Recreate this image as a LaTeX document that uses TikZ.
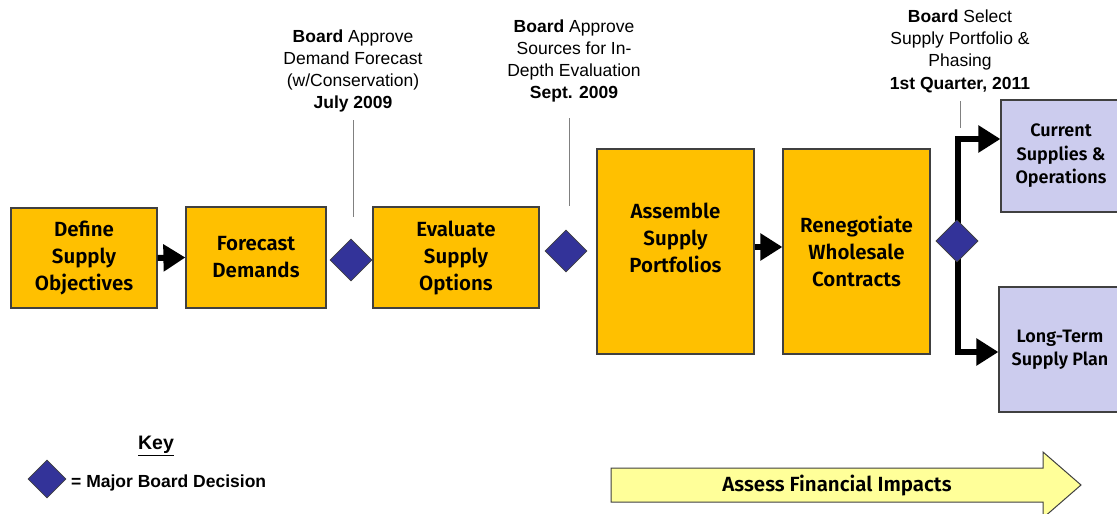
\documentclass[tikz,border=0pt]{standalone}
\usepackage{fontspec}
\setmainfont{Liberation Sans}
\newfontfamily\boxfont{Fira Sans}[BoldFont={Fira Sans SemiBold}]
\usetikzlibrary{shapes.geometric,arrows.meta,positioning}
\definecolor{orng}{HTML}{FFC000}
\definecolor{lav}{HTML}{CCCCEE}
\definecolor{navy}{HTML}{333399}
\definecolor{ylw}{HTML}{FFFF99}
\definecolor{edge}{HTML}{404040}
\tikzset{
  stepbox/.style={draw=edge, line width=1.2pt, fill=orng, align=center, inner sep=0pt,
    font=\boxfont\fontsize{20.5}{27}\selectfont\bfseries},
  outbox/.style={draw=edge, line width=1.2pt, fill=lav, align=center, inner sep=0pt,
    font=\boxfont\fontsize{18}{23.5}\selectfont\bfseries},
  decision/.style={diamond, draw=edge, line width=0.6pt, fill=navy, inner sep=0pt,
    minimum width=42pt, minimum height=42pt, aspect=1},
  flow/.style={line width=6pt, -{Triangle[length=22pt,width=26pt]}},
  flowline/.style={line width=6pt},
  callout/.style={draw=gray, line width=1pt},
  lbl/.style={align=center, font=\fontsize{17.5}{22.3}\selectfont, inner sep=0pt}
}
\begin{document}
\begin{tikzpicture}[x=1pt,y=-1pt]
\useasboundingbox (0,0) rectangle (1117,514);
% boxes
\node[stepbox, minimum width=146pt, minimum height=100pt] (def) at (84,258) {Define\\Supply\\Objectives};
\node[stepbox, minimum width=140pt, minimum height=101pt] (fc) at (256,257.5) {Forecast\\Demands};
\node[decision] (d1) at (351,260) {};
\node[stepbox, minimum width=166pt, minimum height=101pt] (ev) at (456,257.5) {Evaluate\\Supply\\Options};
\node[decision] (d2) at (566,251) {};
\node[stepbox, minimum width=157pt, minimum height=205pt] (as) at (675.5,251.5) {};
\node[stepbox, draw=none, fill=none] (ast) at ([yshift=14pt]as.center) {Assemble\\Supply\\Portfolios};
\node[stepbox, minimum width=147pt, minimum height=205pt] (rn) at (856.5,251.5) {Renegotiate\\Wholesale\\Contracts};
\node[decision] (d3) at (957,241) {};
\node[outbox, minimum width=120pt, minimum height=112pt] (cur) at (1061,156) {Current\\Supplies \&\\Operations};
\node[outbox, minimum width=122pt, minimum height=125pt] (lt) at (1060,349.5) {Long-Term\\Supply Plan};
% flow arrows
\draw[flow] (def.east) -- (fc.west);
\draw[flow] (as.east |- 0,247) coordinate (a1) -- (a1 -| rn.west);
\coordinate (jt) at (958,139);
\coordinate (jb) at (958,352);
\draw[flowline, line cap=butt] ([yshift=-3pt]jt) -- ([yshift=3pt]jb);
\draw[flow] ([xshift=-3pt]jt) -- (jt -| cur.west);
\draw[flow] ([xshift=-3pt]jb) -- (jb -| lt.west);
\node[decision] at (d3) {};
% labels
\node[lbl] (l1) at (353,71) {\textbf{Board} Approve\\Demand Forecast\\(w/Conservation)\\\textbf{July 2009}};
\node[lbl] (l2) at (574,61) {\textbf{Board} Approve\\Sources for In-\\Depth Evaluation\\\textbf{Sept. 2009}};
\node[lbl] (l3) at (960,51) {\textbf{Board} Select\\Supply Portfolio \&\\Phasing\\\textbf{1st Quarter, 2011}};
\coordinate (c1) at (353,120);
\coordinate (c2) at (569,118);
\coordinate (c3) at (960,101);
\draw[callout] (c1) -- (c1 |- 0,217);
\draw[callout] (c2) -- (c2 |- 0,206);
\draw[callout] (c3) -- (c3 |- 0,128);
% key
\node[font=\fontsize{19.5}{22}\selectfont\bfseries, inner sep=0pt] (key) at (156,446) {\underline{Key}};
\node[decision, minimum width=38pt, minimum height=38pt] (kd) at (47,479) {};
\node[font=\fontsize{17.5}{20}\selectfont\bfseries, anchor=west, inner sep=0pt] (kt) at (71,483) {= Major Board Decision};
% big arrow
\draw[draw=edge, line width=1pt, fill=ylw] (611,468) -- (1043,468) -- (1043,452) -- (1081,485) -- (1043,518) -- (1043,502) -- (611,502) -- cycle;
\node[font=\boxfont\fontsize{20.5}{24}\selectfont\bfseries, inner sep=0pt] (fin) at (837,486) {Assess Financial Impacts};
\end{tikzpicture}
\end{document}
